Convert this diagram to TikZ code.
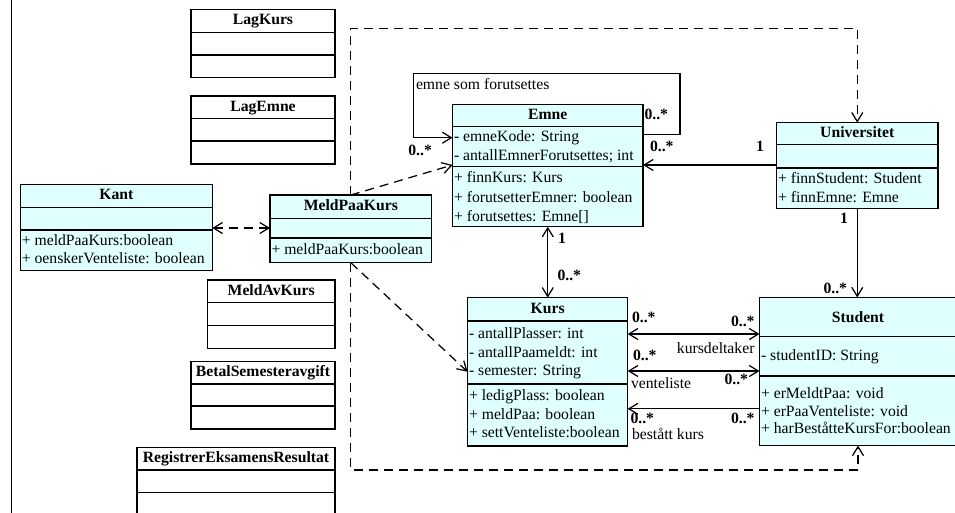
\documentclass[tikz,border=0pt]{standalone}
\usepackage{fontspec}
\setmainfont{Liberation Serif}
\usetikzlibrary{arrows.meta}
\definecolor{ucyan}{RGB}{224,255,255}
\tikzset{
  txt/.style={font=\fontsize{15.7}{18}\selectfont, inner sep=0pt, outer sep=0pt},
  cls/.style={draw=black, line width=1.25pt, fill=ucyan, inner sep=0pt, outer sep=0pt, anchor=north west},
  clsw/.style={cls, fill=white},
  ttl/.style={txt, font=\fontsize{15.7}{18}\selectfont\bfseries, text height=11pt, text depth=3pt},
  mem/.style={txt, anchor=west, text height=11pt, text depth=3.5pt},
  mult/.style={txt, font=\fontsize{15.7}{18}\selectfont\bfseries, anchor=west, text height=11pt, text depth=0pt},
  lbl/.style={txt, anchor=west, text height=11pt, text depth=3.5pt},
  dv/.style={line width=1.25pt},
  conn/.style={line width=1.25pt},
  dsh/.style={conn, dash pattern=on 9pt off 6pt},
  arone/.style={-{Straight Barb[length=9pt,width=11pt]}},
  artwo/.style={{Straight Barb[length=9pt,width=11pt]}-{Straight Barb[length=9pt,width=11pt]}}
}
\begin{document}
\begin{tikzpicture}[x=1pt,y=-1pt]
\useasboundingbox (0,0) rectangle (955,512);
\clip (0,0) rectangle (955,512);
\fill[white] (0,0) rectangle (955,512);
\draw[line width=1.3pt] (11.7,-2) -- (11.7,514);

% ---- white boxes
\node[clsw, minimum width=144pt, minimum height=68pt] (lagkurs) at (191,9.3) {};
\draw[dv] (lagkurs.west |- 0,32.3) -- (lagkurs.east |- 0,32.3);
\draw[dv] (lagkurs.west |- 0,55) -- (lagkurs.east |- 0,55);
\node[ttl] (lagkurs-t) at (lagkurs.north |- 0,20.8) {LagKurs};

\node[clsw, minimum width=144pt, minimum height=68pt] (lagemne) at (191,96) {};
\draw[dv] (lagemne.west |- 0,118.3) -- (lagemne.east |- 0,118.3);
\draw[dv] (lagemne.west |- 0,141) -- (lagemne.east |- 0,141);
\node[ttl] (lagemne-t) at (lagemne.north |- 0,107.2) {LagEmne};

\node[clsw, minimum width=127.7pt, minimum height=68.3pt] (meldav) at (207.3,280) {};
\draw[dv] (meldav.west |- 0,302.7) -- (meldav.east |- 0,302.7);
\draw[dv] (meldav.west |- 0,325.3) -- (meldav.east |- 0,325.3);
\node[ttl] (meldav-t) at (meldav.north |- 0,291.3) {MeldAvKurs};

\node[clsw, minimum width=144pt, minimum height=67.3pt] (betal) at (191,361.7) {};
\draw[dv] (betal.west |- 0,384) -- (betal.east |- 0,384);
\draw[dv] (betal.west |- 0,406) -- (betal.east |- 0,406);
\node[ttl] (betal-t) at (betal.north |- 0,372.8) {BetalSemesteravgift};

\node[clsw, minimum width=198pt, minimum height=68pt] (regeks) at (137,447.3) {};
\draw[dv] (regeks.west |- 0,470) -- (regeks.east |- 0,470);
\draw[dv] (regeks.west |- 0,492.5) -- (regeks.east |- 0,492.5);
\node[ttl] (regeks-t) at (regeks.north |- 0,458.6) {RegistrerEksamensResultat};

% ---- Kant
\node[cls, minimum width=192pt, minimum height=86.4pt] (kant) at (20.3,184.3) {};
\draw[dv] (kant.west |- 0,207.3) -- (kant.east |- 0,207.3);
\draw[dv] (kant.west |- 0,230) -- (kant.east |- 0,230);
\node[ttl] (kant-t) at (kant.north |- 0,195.8) {Kant};
\node[mem] (kant-m1) at (21.8,241.7) {+ meldPaaKurs:boolean};
\node[mem] (kant-m2) at (21.8,259.3) {+ oenskerVenteliste: boolean};

% ---- MeldPaaKurs
\node[cls, minimum width=161.7pt, minimum height=67.7pt] (meldpaa) at (270,195) {};
\draw[dv] (meldpaa.west |- 0,218.3) -- (meldpaa.east |- 0,218.3);
\draw[dv] (meldpaa.west |- 0,238) -- (meldpaa.east |- 0,238);
\node[ttl] (meldpaa-t) at (meldpaa.north |- 0,206.6) {MeldPaaKurs};
\node[mem] (meldpaa-m1) at (271.5,250.3) {+ meldPaaKurs:boolean};

% ---- Emne
\node[cls, minimum width=190.5pt, minimum height=122.4pt] (emne) at (452.5,104.3) {};
\draw[dv] (emne.west |- 0,126.7) -- (emne.east |- 0,126.7);
\draw[dv] (emne.west |- 0,166.7) -- (emne.east |- 0,166.7);
\node[ttl] (emne-t) at (emne.north |- 0,115.5) {Emne};
\node[mem] (emne-a1) at (454,137.7) {- emneKode: String};
\node[mem] (emne-a2) at (454,156.7) {- antallEmnerForutsettes; int};
\node[mem] (emne-m1) at (454,179) {+ finnKurs: Kurs};
\node[mem] (emne-m2) at (454,198.3) {+ forutsetterEmner: boolean};
\node[mem] (emne-m3) at (454,217.3) {+ forutsettes: Emne[]};

% ---- Universitet
\node[cls, minimum width=161.5pt, minimum height=85.6pt] (univ) at (776.5,122.7) {};
\draw[dv] (univ.west |- 0,144.3) -- (univ.east |- 0,144.3);
\draw[dv] (univ.west |- 0,168) -- (univ.east |- 0,168);
\node[ttl] (univ-t) at (univ.north |- 0,133.5) {Universitet};
\node[mem] (univ-m1) at (778,180) {+ finnStudent: Student};
\node[mem] (univ-m2) at (778,198.3) {+ finnEmne: Emne};

% ---- Kurs
\node[cls, minimum width=160.2pt, minimum height=148.3pt] (kurs) at (467.5,297.7) {};
\draw[dv] (kurs.west |- 0,321) -- (kurs.east |- 0,321);
\draw[dv] (kurs.west |- 0,384) -- (kurs.east |- 0,384);
\node[ttl] (kurs-t) at (kurs.north |- 0,309.3) {Kurs};
\node[mem] (kurs-a1) at (469,335) {- antallPlasser: int};
\node[mem] (kurs-a2) at (469,353.3) {- antallPaameldt: int};
\node[mem] (kurs-a3) at (469,371.7) {- semester: String};
\node[mem] (kurs-m1) at (469,396.7) {+ ledigPlass: boolean};
\node[mem] (kurs-m2) at (469,415.7) {+ meldPaa: boolean};
\node[mem] (kurs-m3) at (469,434) {+ settVenteliste:boolean};

% ---- Student
\node[cls, minimum width=197pt, minimum height=148pt] (student) at (759.5,297.5) {};
\draw[dv] (student.west |- 0,336.7) -- (student.east |- 0,336.7);
\draw[dv] (student.west |- 0,376) -- (student.east |- 0,376);
\node[ttl] (student-t) at (student.north |- 0,318) {Student};
\node[mem] (student-a1) at (761,356.5) {- studentID: String};
\node[mem] (student-m1) at (761,394.3) {+ erMeldtPaa: void};
\node[mem] (student-m2) at (761,412.3) {+ erPaaVenteliste: void};
\node[mem] (student-m3) at (761,430) {+ harBeståtteKursFor:boolean};

% ---- dashed dependencies
\draw[dsh, arone] (meldpaa.north) -- (meldpaa.north |- 0,28.3) -- (univ.north |- 0,28.3) -- (univ.north);
\draw[dsh, arone] (meldpaa.south) -- (meldpaa.south |- 0,470) -- (student.south |- 0,470) -- (student.south);
\draw[dsh, arone] (meldpaa.north) -- (emne.west |- 0,165);
\draw[dsh, arone] (meldpaa.south) -- (kurs.west |- 0,371.7);
\draw[dsh, artwo] (kant.east |- 0,228) -- (meldpaa.west |- 0,228);

% ---- associations
\draw[conn, arone] (emne.east |- 0,134.3) -- (680,134.3) -- (680,73.3) -- (413.5,73.3) -- (413.5,137.7) -- (emne.west |- 0,137.7);
\node[lbl] (l-emnesom) at (416,85.7) {emne som forutsettes};
\node[mult] (m-loop1) at (644.5,113.5) {0..*};
\node[mult] (m-loop2) at (408.3,150) {0..*};

\draw[conn, arone] (univ.west |- 0,165) -- (emne.east |- 0,165);
\node[mult] (m-ue1) at (650,145.5) {0..*};
\node[mult] (m-ue2) at (756,146) {1};

\draw[conn, artwo] (emne.south) -- (emne.south |- kurs.north);
\node[mult] (m-ek1) at (558,237.7) {1};
\node[mult] (m-ek2) at (557.5,275) {0..*};

\draw[conn, arone] (univ.south) -- (univ.south |- student.north);
\node[mult] (m-us1) at (840,217.5) {1};
\node[mult] (m-us2) at (823.5,288.3) {0..*};

\draw[conn, artwo] (kurs.east |- 0,334) -- (student.west |- 0,334);
\node[mult] (m-kd1) at (632,316.7) {0..*};
\node[mult] (m-kd2) at (731,321) {0..*};
\node[lbl, anchor=east] (l-kd) at (754.5,350) {kursdeltaker};

\draw[conn, artwo] (kurs.east |- 0,371) -- (student.west |- 0,371);
\node[mult] (m-vl1) at (633,355) {0..*};
\node[mult] (m-vl2) at (724.5,379) {0..*};
\node[lbl] (l-vl) at (631,385) {venteliste};

\draw[conn, arone] (student.west |- 0,408.8) -- (kurs.east |- 0,408.8);
\node[mult] (m-bk1) at (630.5,418.3) {0..*};
\node[mult] (m-bk2) at (731,417.5) {0..*};
\node[lbl] (l-bk) at (632,435.7) {bestått kurs};
\end{tikzpicture}
\end{document}
